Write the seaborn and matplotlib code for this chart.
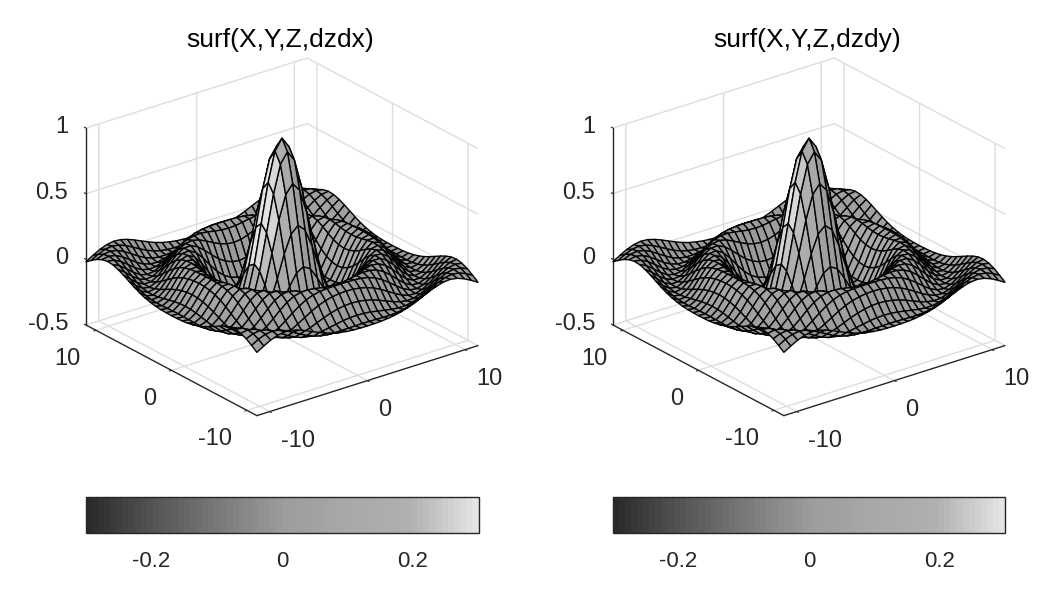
import numpy as np
import seaborn as sns
import matplotlib
matplotlib.use("Agg")
import matplotlib.pyplot as plt
from matplotlib.colors import ListedColormap, Normalize
from matplotlib.cm import ScalarMappable
from mpl_toolkits.mplot3d import proj3d

# grid positions
GRID = [-11.31, -10.61, -9.90, -9.19, -8.49, -7.78, -7.07, -6.36, -5.66, -4.95, -4.24,
        -3.54, -2.83, -2.12, -1.41, -0.71, 0.0, 0.71, 1.41, 2.12, 2.83, 3.54, 4.24,
        4.95, 5.66, 6.36, 7.07, 7.78, 8.49, 9.19, 9.90, 10.61, 11.31]

# surface heights: one octant of the (symmetric) surface, row i from the centre, column j<=i
Z_OCTANT = [
    [1.000],
    [.919, .841],
    [.698, .632, .455],
    [.402, .352, .219, .047],
    [.109, .077, -.007, -.108, -.189],
    [-.108, -.124, -.162, -.202, -.217, -.192],
    [-.210, -.213, -.217, -.211, -.182, -.125, -.047],
    [-.196, -.192, -.176, -.145, -.096, -.033, .036, .094],
    [-.104, -.096, -.075, -.040, .007, .057, .100, .126, .124],
    [.013, .019, .036, .061, .090, .115, .128, .121, .093, .046],
    [.100, .103, .111, .121, .128, .126, .112, .083, .040, -.009, -.054],
    [.128, .128, .126, .121, .110, .090, .060, .022, -.020, -.058, -.084, -.091],
    [.095, .093, .085, .072, .052, .025, -.007, -.039, -.068, -.087, -.090, -.076, -.045],
    [.025, .022, .013, -.001, -.020, -.042, -.064, -.081, -.091, -.088, -.071, -.042, -.004, .032],
    [-.046, -.048, -.054, -.064, -.074, -.084, -.090, -.090, -.081, -.061, -.032, .002, .035, .060, .071],
    [-.087, -.088, -.089, -.091, -.091, -.088, -.080, -.065, -.043, -.016, .014, .042, .063, .071, .064, .043],
    [-.084, -.083, -.081, -.076, -.067, -.055, -.038, -.017, .007, .031, .052, .067, .071, .062, .042, .013, -.018],
]

TITLES = ["surf(X,Y,Z,dzdx)", "surf(X,Y,Z,dzdy)"]
XY_TICKS = [-10, 0, 10]
XY_LABELS = ["-10", "0", "10"]
Z_TICKS = [-0.5, 0, 0.5, 1]
Z_LABELS = ["-0.5", "0", "0.5", "1"]
CBAR_TICKS = [-0.2, 0, 0.2]
CBAR_LABELS = ["-0.2", "0", "0.2"]
CLIM = (-0.3, 0.3)
CMAP_GRAYS = ["#2a2a2a", "#545454", "#787878", "#9c9c9c", "#a8a8a8", "#b0b0b0", "#e4e4e4"]

sns.set_theme(style="white")
plt.rcParams["font.family"] = ["Liberation Sans", "DejaVu Sans"]
plt.rcParams["axes.unicode_minus"] = False

W, H = 1062, 592
fig = plt.figure(figsize=(W / 100, H / 100), dpi=100, facecolor="white")

cmap = ListedColormap(sns.blend_palette(CMAP_GRAYS, n_colors=64))
norm = Normalize(*CLIM)

n = len(GRID)
Z = np.zeros((n, n))
mid = n // 2
for r in range(n):
    for c in range(n):
        a, b = abs(r - mid), abs(c - mid)
        Z[r, c] = Z_OCTANT[max(a, b)][min(a, b)]
X, Y = np.meshgrid(GRID, GRID)
dzdy, dzdx = np.gradient(Z)


def soften(v):
    return np.where(v > 0, 1.15 * v, 0.1 * v)


SHADES = [soften(dzdx), soften(0.9 * dzdx - 0.1 * dzdy)]

INK = "#262626"
LIM = 11.31


def px_of(ax, x, y, z):
    u, v, _ = proj3d.proj_transform(x, y, z, ax.get_proj())
    return ax.transData.transform((u, v))


for k in range(2):
    off = 527 * k
    ax = fig.add_axes([0.1, 0.1, 0.6, 0.8], projection="3d")
    ax.patch.set_alpha(0)
    ax.set_proj_type("ortho")
    ax.view_init(elev=24.2, azim=-127.7)
    ax.set_xlim(-LIM, LIM)
    ax.set_ylim(-LIM, LIM)
    ax.set_zlim(-0.5, 1)
    ax.set_box_aspect((279.5, 279.5, 216))
    fig.canvas.draw()
    # fit the scene to the reference's pixel box
    p0, p1 = px_of(ax, -LIM, LIM, -0.5), px_of(ax, LIM, -LIM, -0.5)
    ax.set_box_aspect((279.5, 279.5, 216), zoom=392 / (p1[0] - p0[0]))
    fig.canvas.draw()
    p0 = px_of(ax, -LIM, LIM, -0.5)
    pos = ax.get_position()
    dx = (86 + off - p0[0]) / W
    dy = ((H - 325) - p0[1]) / H
    ax.set_position([pos.x0 + dx, pos.y0 + dy, pos.width, pos.height])
    fig.canvas.draw()

    ax.plot_surface(X, Y, Z, facecolors=cmap(norm(SHADES[k])), rstride=1, cstride=1,
                    edgecolor="#050505", linewidth=1.0, shade=False, antialiased=True)

    for axis in (ax.xaxis, ax.yaxis, ax.zaxis):
        axis.set_pane_color((1, 1, 1, 0))
        axis.pane.set_edgecolor((1, 1, 1, 0))
        axis.line.set_color(INK)
        axis.line.set_linewidth(1.0)
        axis._axinfo["grid"].update(color="#dddddd", linewidth=1.0)
        axis._axinfo["tick"].update(inward_factor=0.12, outward_factor=0.0, color=INK,
                                    linewidth={True: 0.8, False: 0.5})
    ax.zaxis._axinfo["tick"].update(inward_factor=0.0, outward_factor=0.12)
    ax.zaxis._axinfo["juggled"] = (1, 2, 0)
    ax.zaxis.set_ticks_position("lower")
    ax.set_xticks(XY_TICKS)
    ax.set_yticks(XY_TICKS)
    ax.set_zticks(Z_TICKS)
    ax.set_xticklabels(XY_LABELS)
    ax.set_yticklabels(XY_LABELS)
    ax.set_zticklabels(Z_LABELS)
    ax.tick_params(axis="x", labelsize=17, labelcolor=INK, pad=3.5)
    ax.tick_params(axis="y", labelsize=17, labelcolor=INK, pad=4)
    ax.tick_params(axis="z", labelsize=17, labelcolor=INK, pad=0)
    for lbl in ax.get_xticklabels():
        lbl.set_ha("left")
    for lbl in ax.get_yticklabels():
        lbl.set_ha("right")
    for lbl in ax.get_zticklabels():
        lbl.set_ha("right")
        lbl.set_va("center")

    tx, ty = ax.transAxes.inverted().transform((280 + off, H - 40))
    ax.set_title(TITLES[k], fontsize=19, color="black", va="center", pad=0, x=tx, y=ty)
    ax.title.set_y(ty)

    cax = fig.add_axes([(85.5 + off) / W, (H - 533) / H, 393 / W, 36 / H])
    cb = fig.colorbar(ScalarMappable(norm=norm, cmap=cmap), cax=cax, orientation="horizontal")
    cb.set_ticks(CBAR_TICKS, labels=CBAR_LABELS)
    cb.ax.tick_params(direction="in", length=3.5, width=0.7, color=INK, labelsize=16,
                      labelcolor=INK, pad=13)
    cb.outline.set_edgecolor(INK)
    cb.outline.set_linewidth(1.0)

fig.savefig("out.png", dpi=100, facecolor="white")
